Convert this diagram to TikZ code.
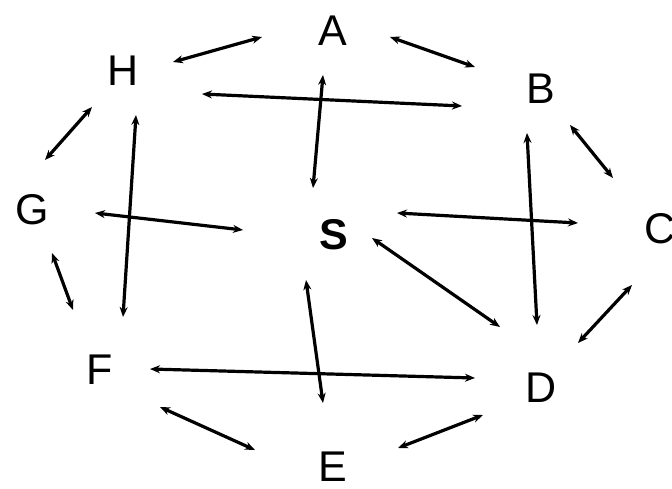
\documentclass[tikz,border=0pt]{standalone}
\usepackage{fontspec}
\setmainfont{Liberation Sans}
\usetikzlibrary{arrows.meta,calc}
\begin{document}
\begin{tikzpicture}[x=1pt,y=-1pt,
  lbl/.style={inner sep=0pt,font=\fontsize{43}{43}\selectfont},
  dbl/.style={line width=3.2pt,{Stealth[length=10pt,width=8pt]}-{Stealth[length=10pt,width=8pt]}}]
\useasboundingbox (0,0) rectangle (672,489);
\node[lbl] (A) at (333,31) {A};
\node[lbl] (B) at (541,89) {B};
\node[lbl] (C) at (660,229) {C};
\node[lbl] (D) at (541,388) {D};
\node[lbl] (E) at (333,467) {E};
\node[lbl] (F) at (100,370) {F};
\node[lbl] (G) at (32,210) {G};
\node[lbl] (H) at (123,71) {H};
\node[lbl,font=\fontsize{43}{43}\selectfont\bfseries] (S) at (334,235) {S};
\draw[dbl] ($(A)+(-71,6)$) -- ($(H)+(50,-9)$);
\draw[dbl] ($(A)+(57,6)$) -- ($(B)+(-66,-22)$);
\draw[dbl] ($(H)+(79,23)$) -- ($(B)+(-79,17)$);
\draw[dbl] ($(A)+(-10,44)$) -- ($(S)+(-21,-47)$);
\draw[dbl] ($(H)+(-31,36)$) -- ($(G)+(13,-50)$);
\draw[dbl] ($(H)+(13,44)$) -- ($(F)+(23,-53)$);
\draw[dbl] ($(G)+(63,3)$) -- ($(S)+(-91,-5)$);
\draw[dbl] ($(G)+(20,43)$) -- ($(F)+(-27,-60)$);
\draw[dbl] ($(B)+(29,36)$) -- ($(C)+(-47,-51)$);
\draw[dbl] ($(S)+(63,-22)$) -- ($(C)+(-82,-6)$);
\draw[dbl] ($(B)+(-14,44)$) -- ($(D)+(-4,-63)$);
\draw[dbl] ($(S)+(38,3)$) -- ($(D)+(-41,-61)$);
\draw[dbl] ($(C)+(-28,56)$) -- ($(D)+(37,-45)$);
\draw[dbl] ($(F)+(50,-1)$) -- ($(D)+(-66,-10)$);
\draw[dbl] ($(S)+(-28,45)$) -- ($(E)+(-10,-64)$);
\draw[dbl] ($(F)+(60,37)$) -- ($(E)+(-78,-17)$);
\draw[dbl] ($(E)+(65,-19)$) -- ($(D)+(-58,27)$);
\end{tikzpicture}
\end{document}
